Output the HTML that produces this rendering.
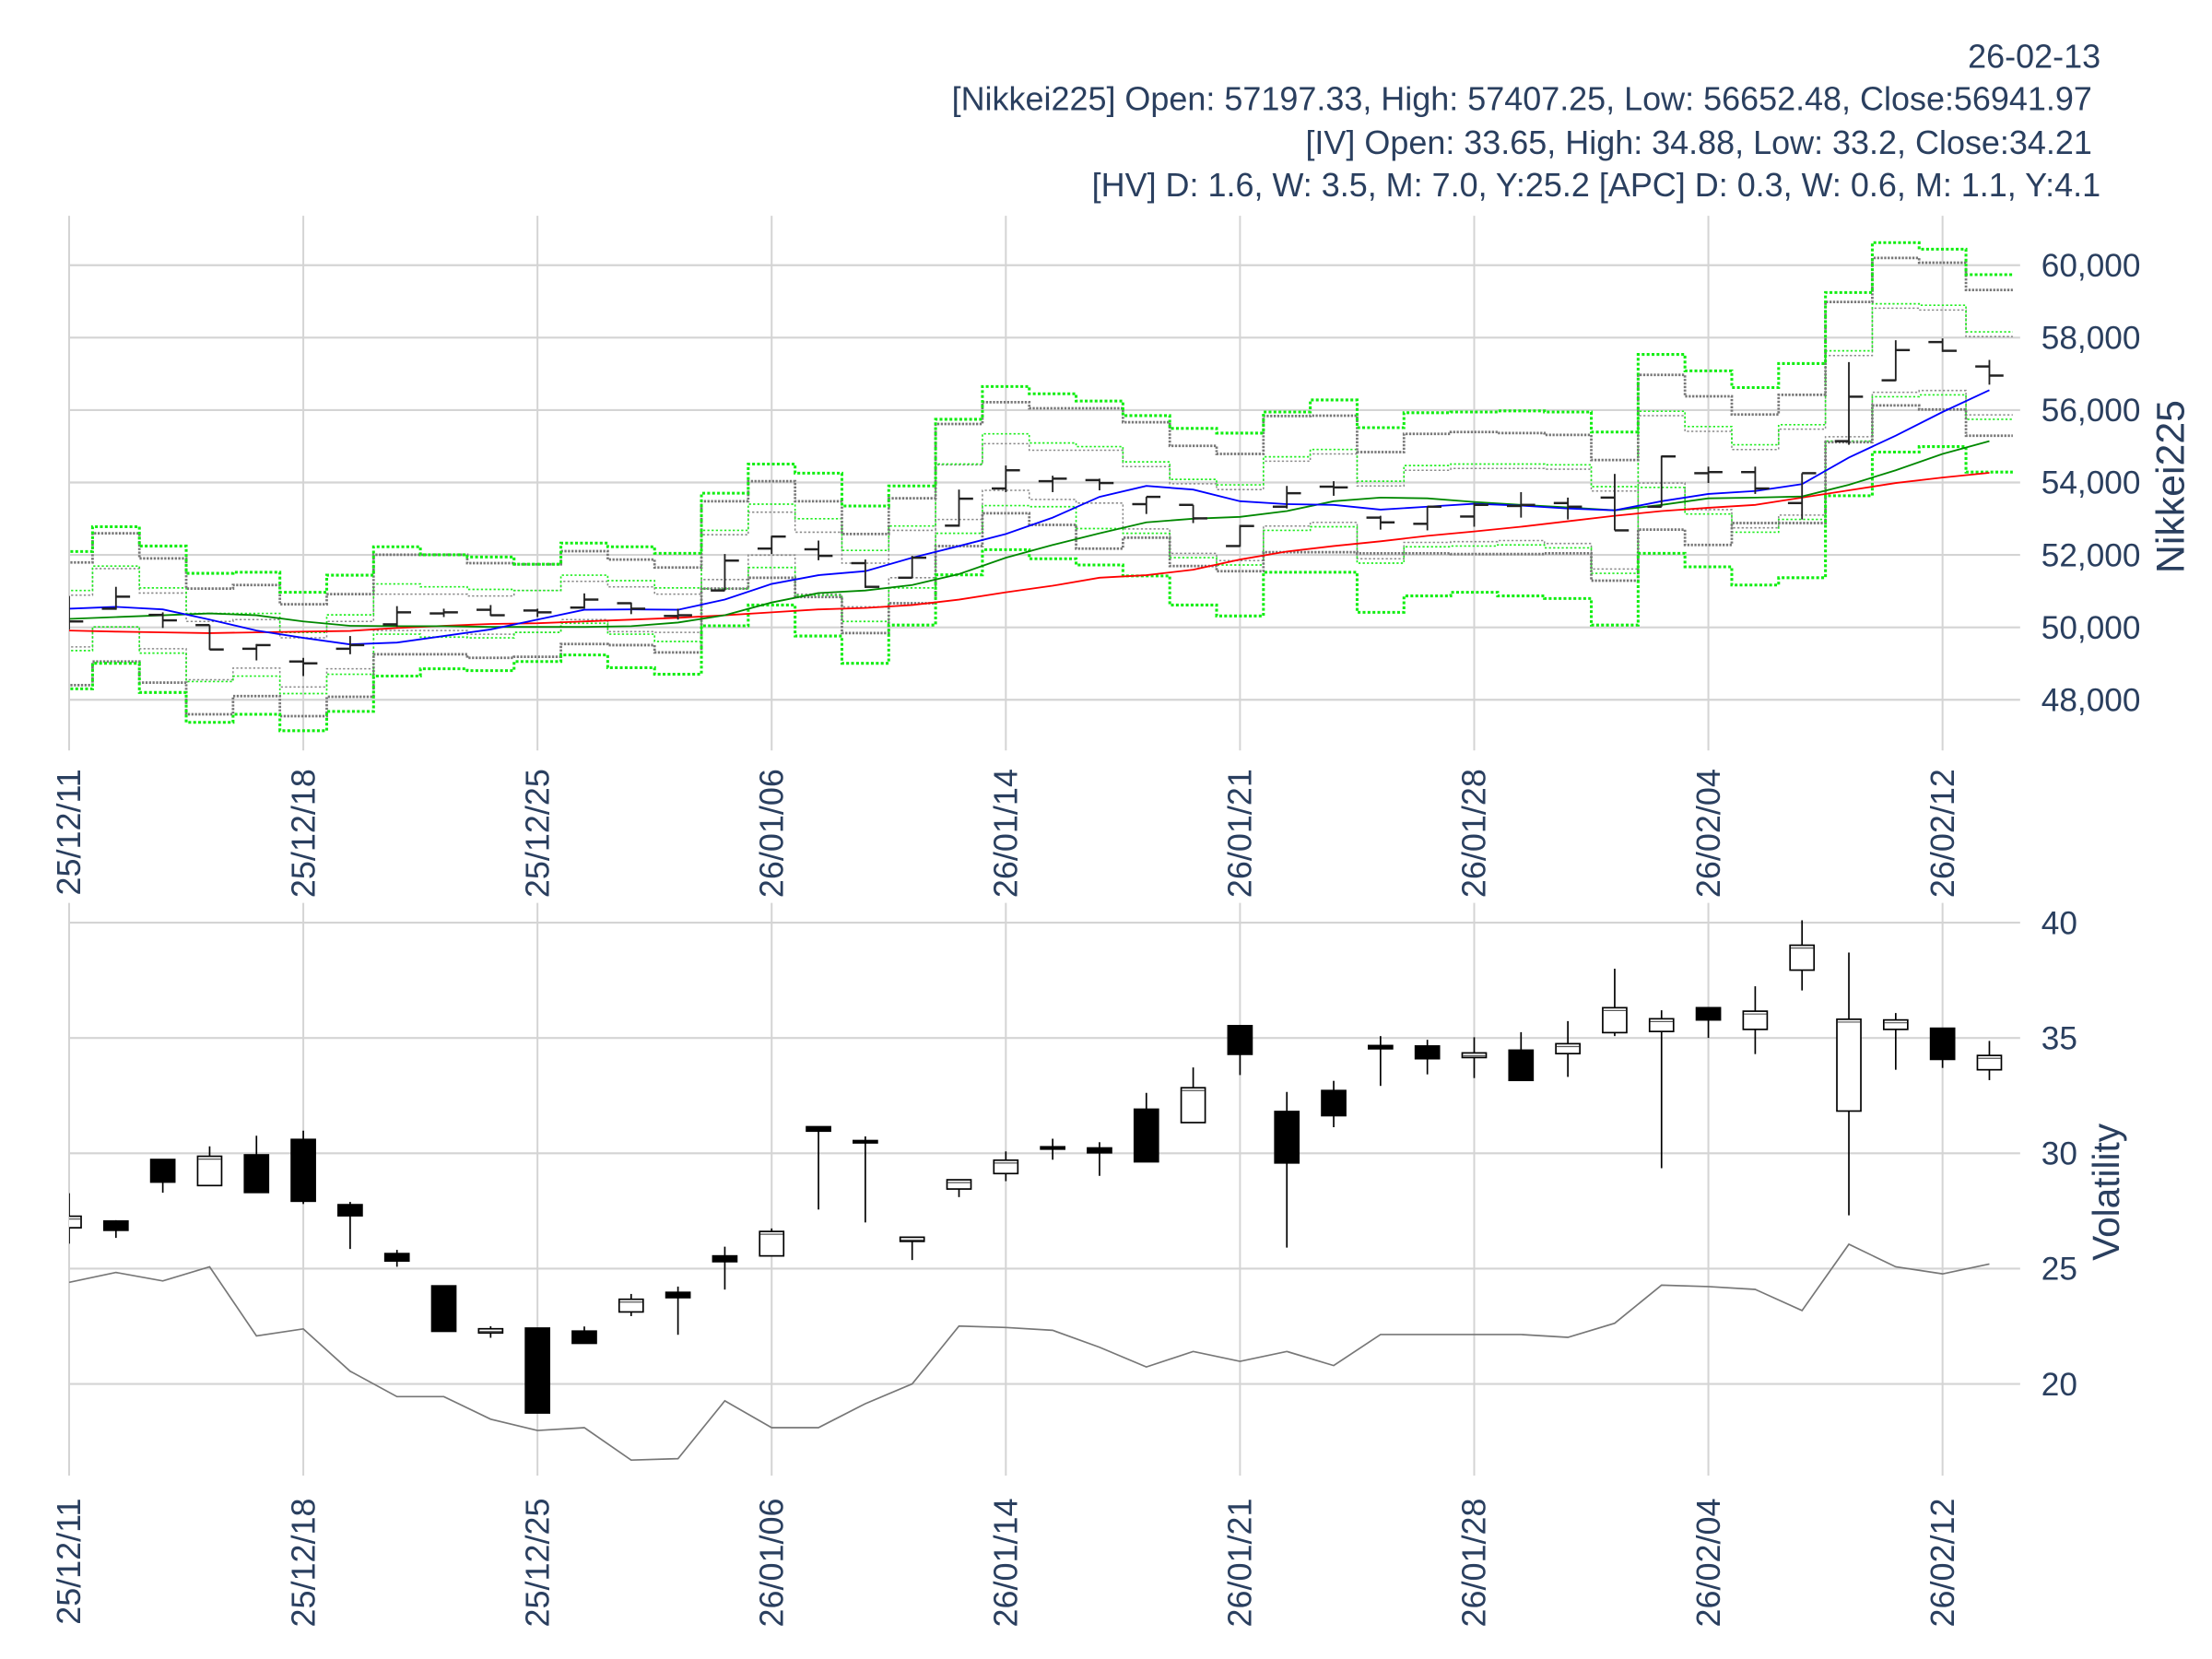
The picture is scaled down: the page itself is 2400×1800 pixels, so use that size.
<!DOCTYPE html>
<html><head><meta charset="utf-8">
<style>
html,body{margin:0;padding:0;background:#fff;}
svg{display:block;}
text{font-family:"Liberation Sans",Arial,sans-serif;fill:#2a3f5f;}
</style></head>
<body>
<svg id="s" xmlns="http://www.w3.org/2000/svg" width="2400" height="1800" viewBox="0 0 1568 1176">
<rect width="1568" height="1176" fill="#fff"/>
<defs>
<clipPath id="c1"><rect x="49" y="150" width="1380" height="390"/></clipPath>
<clipPath id="c2"><rect x="49" y="640" width="1380" height="410"/></clipPath>
</defs>
<g font-size="23.5" text-anchor="end">
<text x="1489" y="48">26-02-13</text>
<text x="1483" y="78">[Nikkei225] Open: 57197.33, High: 57407.25, Low: 56652.48, Close:56941.97</text>
<text x="1483" y="109">[IV] Open: 33.65, High: 34.88, Low: 33.2, Close:34.21</text>
<text x="1489" y="139">[HV] D: 1.6, W: 3.5, M: 7.0, Y:25.2 [APC] D: 0.3, W: 0.6, M: 1.1, Y:4.1</text>
</g>
<g id="g"></g>
</svg>
<script>
var NS="http://www.w3.org/2000/svg",G=document.getElementById("g");
function el(t,a,p){var e=document.createElementNS(NS,t);for(var k in a)e.setAttribute(k,a[k]);(p||G).appendChild(e);return e;}
function X(i){return 49+33.2*i;}
function ty(z){return z*0.2582+130.67;}
function vy(v){return 654+(40-v)*16.35;}
var grid="#d4d4d4";
[60000,58000,56000,54000,52000,50000,48000].forEach(function(v){var y=188+(60000-v)*0.02567;
 el("line",{x1:49,x2:1432,y1:y,y2:y,stroke:grid,"stroke-width":1.4});
 var t=el("text",{x:1447,y:y+8,"font-size":23});t.textContent=v.toLocaleString("en-US");});
[40,35,30,25,20].forEach(function(v){var y=vy(v);
 el("line",{x1:49,x2:1432,y1:y,y2:y,stroke:grid,"stroke-width":1.4});
 var t=el("text",{x:1447,y:y+8,"font-size":23});t.textContent=v;});
var dates=["25/12/11","25/12/18","25/12/25","26/01/06","26/01/14","26/01/21","26/01/28","26/02/04","26/02/12"];
dates.forEach(function(d,k){var x=X(5*k);
 el("line",{x1:x,x2:x,y1:153,y2:532,stroke:grid,"stroke-width":1.3});
 el("line",{x1:x,x2:x,y1:640,y2:1046,stroke:grid,"stroke-width":1.3});
 var t=el("text",{x:0,y:0,"font-size":23.5,"text-anchor":"end",transform:"translate("+(x+8)+",545) rotate(-90)"});t.textContent=d;
 t=el("text",{x:0,y:0,"font-size":23.5,"text-anchor":"end",transform:"translate("+(x+8)+",1062) rotate(-90)"});t.textContent=d;});
var t=el("text",{x:0,y:0,"font-size":28,"text-anchor":"middle",transform:"translate(1548,345) rotate(-90)"});t.textContent="Nikkei225";
t=el("text",{x:0,y:0,"font-size":26.5,"text-anchor":"middle",transform:"translate(1502,845) rotate(-90)"});t.textContent="Volatility";
var g1=el("g",{"clip-path":"url(#c1)"}),g2=el("g",{"clip-path":"url(#c2)"});
function step(arr,col,w,dash){var d="";for(var i=0;i<arr.length;i++){var y=ty(arr[i]),a=X(i)-16.6,b=X(i)+16.6;d+=(i?"L":"M")+a+","+y+"L"+b+","+y;}
 el("path",{d:d,fill:"none",stroke:col,"stroke-width":w,"stroke-dasharray":dash},g1);}
var G1=[1008,940,993,1068,1065,1120,1073,995,1017,1023,1043,985,995,1013,848,768,793,883,828,645,555,575,595,635,670,683,625,592,668,627,625,622,625,680,467,512,558,492,297,160,178,248];
var A1=[1038,958,1027,1110,1100,1153,1125,1017,1017,1040,1043,1007,1030,1052,870,815,870,960,862,658,598,615,615,653,718,740,636,635,735,685,680,683,688,757,523,582,632,578,323,202,215,290];
var G2=[1115,1048,1108,1178,1178,1230,1182,1097,1105,1112,1115,1073,1088,1108,950,878,918,1005,938,768,685,710,720,762,810,825,748,728,815,772,768,768,770,830,623,665,715,660,457,328,332,405];
var A2=[1128,1055,1122,1200,1195,1245,1200,1125,1125,1130,1115,1090,1105,1125,962,900,955,1040,950,770,712,730,730,775,822,838,760,740,828,785,780,780,782,842,635,678,728,672,470,340,345,418];
var G3=[1280,1215,1287,1365,1350,1398,1345,1235,1243,1245,1230,1205,1235,1255,1110,1052,1128,1200,1108,958,882,885,945,958,1025,1045,950,940,1040,995,993,990,998,1068,832,905,955,920,705,583,578,645];
var A3=[1270,1215,1275,1360,1328,1380,1330,1225,1225,1235,1230,1195,1228,1230,1085,1018,1125,1160,1080,920,840,865,875,946,1013,1033,938,928,1028,983,981,978,986,1056,820,893,943,908,693,571,566,633];
var A4=[1375,1310,1368,1455,1405,1460,1407,1290,1290,1300,1297,1262,1265,1285,1110,1080,1133,1232,1150,993,903,935,1000,970,1048,1062,1010,1010,1013,1013,1015,1015,1013,1088,948,990,930,930,708,607,618,690];
var G4=[1385,1315,1395,1477,1455,1500,1447,1350,1330,1335,1310,1292,1327,1345,1212,1155,1240,1315,1210,1072,1003,1028,1045,1075,1155,1185,1065,1065,1175,1130,1120,1130,1137,1210,1013,1050,1100,1080,855,735,720,790];
step(A2,"#8a8a8a",1,"1.5,1.5");step(A3,"#8a8a8a",1,"1.5,1.5");
step(G2,"#22ee22",1.1,"1.5,1.5");step(G3,"#22ee22",1.1,"1.5,1.5");
step(A1,"#777",1.8,"1.5,1");step(A4,"#777",1.8,"1.5,1");
step(G1,"#11ee11",2,"2,1.5");step(G4,"#11ee11",2,"2,1.5");
function line(arr,col,w){el("polyline",{points:arr.map(function(z,i){return X(i)+","+ty(z);}).join(" "),fill:"none",stroke:col,"stroke-width":w},g1);}
line([1225,1228,1230,1232,1230,1228,1226,1218,1212,1207,1205,1200,1195,1190,1183,1175,1167,1163,1155,1140,1120,1102,1080,1073,1058,1030,1008,993,980,965,953,940,925,910,897,888,880,860,840,820,805,792],"#f00",1.2);
line([1193,1188,1183,1178,1183,1200,1212,1213,1213,1215,1215,1215,1213,1203,1183,1148,1122,1115,1100,1070,1025,990,958,928,918,913,897,870,860,862,872,880,887,895,880,862,860,857,825,785,740,705],"#080",1.2);
line([1165,1160,1167,1195,1225,1245,1263,1258,1240,1222,1195,1168,1167,1168,1140,1097,1073,1062,1025,993,960,915,858,828,838,870,878,880,893,885,877,882,890,895,870,850,842,823,750,690,625,565],"#00f",1.2);
var B=[[1130,1222,1165,1200],[1105,1168,1165,1132],[1175,1218,1182,1197],[1210,1278,1210,1277],[1262,1307,1275,1265],[1300,1350,1310,1315],[1240,1290,1275,1265],[1158,1215,1208,1175],[1165,1188,1178,1175],[1155,1185,1168,1183],[1165,1188,1170,1175],[1123,1165,1162,1140],[1148,1180,1150,1165],[1165,1195,1185,1183],[1015,1115,1115,1033],[965,1015,1000,967],[978,1032,1002,1020],[1030,1108,1040,1105],[1020,1080,1080,1025],[838,940,937,863],[772,845,835,785],[800,845,815,808],[808,840,812,820],
[858,905,878,858],[880,930,880,917],[935,995,993,938],[828,890,885,848],[815,855,830,832],[910,948,915,928],[885,950,932,885],[875,940,912,880],[845,915,883,880],[860,920,875,885],[795,950,860,950],[745,885,885,747],[775,820,793,790],[775,850,790,835],[793,920,875,793],[488,715,705,583],[428,540,538,455],[423,460,433,457],[482,550,500,525]];
B.forEach(function(b,i){var x=X(i);
 el("line",{x1:x,x2:x,y1:ty(b[0]),y2:ty(b[1]),stroke:"#222","stroke-width":1.2},g1);
 el("line",{x1:x-10,x2:x,y1:ty(b[2]),y2:ty(b[2]),stroke:"#222","stroke-width":1.6},g1);
 el("line",{x1:x,x2:x+10,y1:ty(b[3]),y2:ty(b[3]),stroke:"#222","stroke-width":1.6},g1);});
var HV=[909,902,908,898,947,942,972,990,990,1006,1014,1012,1035,1034,993,1012,1012,995,981,940,941,943,955,969,958,965,958,968,946,946,946,946,948,938,911,912,914,929,882,898,903,896];
el("polyline",{points:HV.map(function(y,i){return X(i)+","+y;}).join(" "),fill:"none",stroke:"#777","stroke-width":1.1},g2);
var C=[[27.27,26.77,28.27,26.08,0],[27.06,26.66,27.1,26.33,1],[29.73,28.75,29.73,28.29,1],[29.87,28.6,30.3,28.6,0],[29.93,28.3,30.76,28.3,1],[30.6,27.92,30.98,27.8,1],[27.77,27.29,27.89,25.85,1],[25.65,25.33,25.81,25.08,1],[24.25,22.28,24.25,22.28,1],[22.39,22.21,22.5,22,0],[22.42,18.74,22.42,18.74,1],[22.29,21.76,22.49,21.76,1],[23.67,23.12,23.9,22.94,0],[23.97,23.74,24.22,22.13,1],[25.55,25.3,25.95,24.09,1],[26.61,25.55,26.74,25.55,0],[31.15,30.96,31.15,27.56,1],[30.55,30.45,30.73,27.0,1],[26.36,26.18,26.36,25.37,0],[28.85,28.45,28.85,28.1,0],[29.7,29.12,30.08,28.79,0],[30.28,30.18,30.63,29.72,1],
[30.23,30.02,30.48,29.02,1],[31.91,29.63,32.62,29.63,1],[32.84,31.33,33.72,31.33,0],[35.53,34.29,35.53,33.39,1],[31.81,29.58,32.66,25.91,1],[32.72,31.63,33.14,31.13,1],[34.67,34.53,35.08,32.92,1],[34.65,34.1,34.92,33.42,1],[34.35,34.15,35.03,33.26,0],[34.47,33.16,35.25,33.16,1],[34.75,34.32,35.73,33.31,0],[36.31,35.23,38.0,35.08,0],[35.83,35.28,36.2,29.35,0],[36.31,35.78,36.31,35.0,1],[36.16,35.37,37.24,34.3,0],[39.02,37.94,40.1,37.06,0],[35.81,31.83,38.7,27.31,0],[35.78,35.37,36.08,33.62,0],[35.42,34.07,35.42,33.7,1],[34.24,33.62,34.87,33.17,0]];
C.forEach(function(c,i){var x=X(i);
 el("line",{x1:x,x2:x,y1:vy(c[2]),y2:vy(c[3]),stroke:"#000","stroke-width":1.1},g2);
 var h=Math.max(vy(c[1])-vy(c[0]),1.5);
 el("rect",{x:x-8.5,y:vy(c[0]),width:17,height:h,fill:c[4]?"#000":"#fff",stroke:"#000","stroke-width":1.1},g2);
 if(!c[4]) el("line",{x1:x-8,x2:x+8,y1:vy(c[0])+2,y2:vy(c[0])+2,stroke:"#555","stroke-width":0.8},g2);});
</script>
</body></html>
